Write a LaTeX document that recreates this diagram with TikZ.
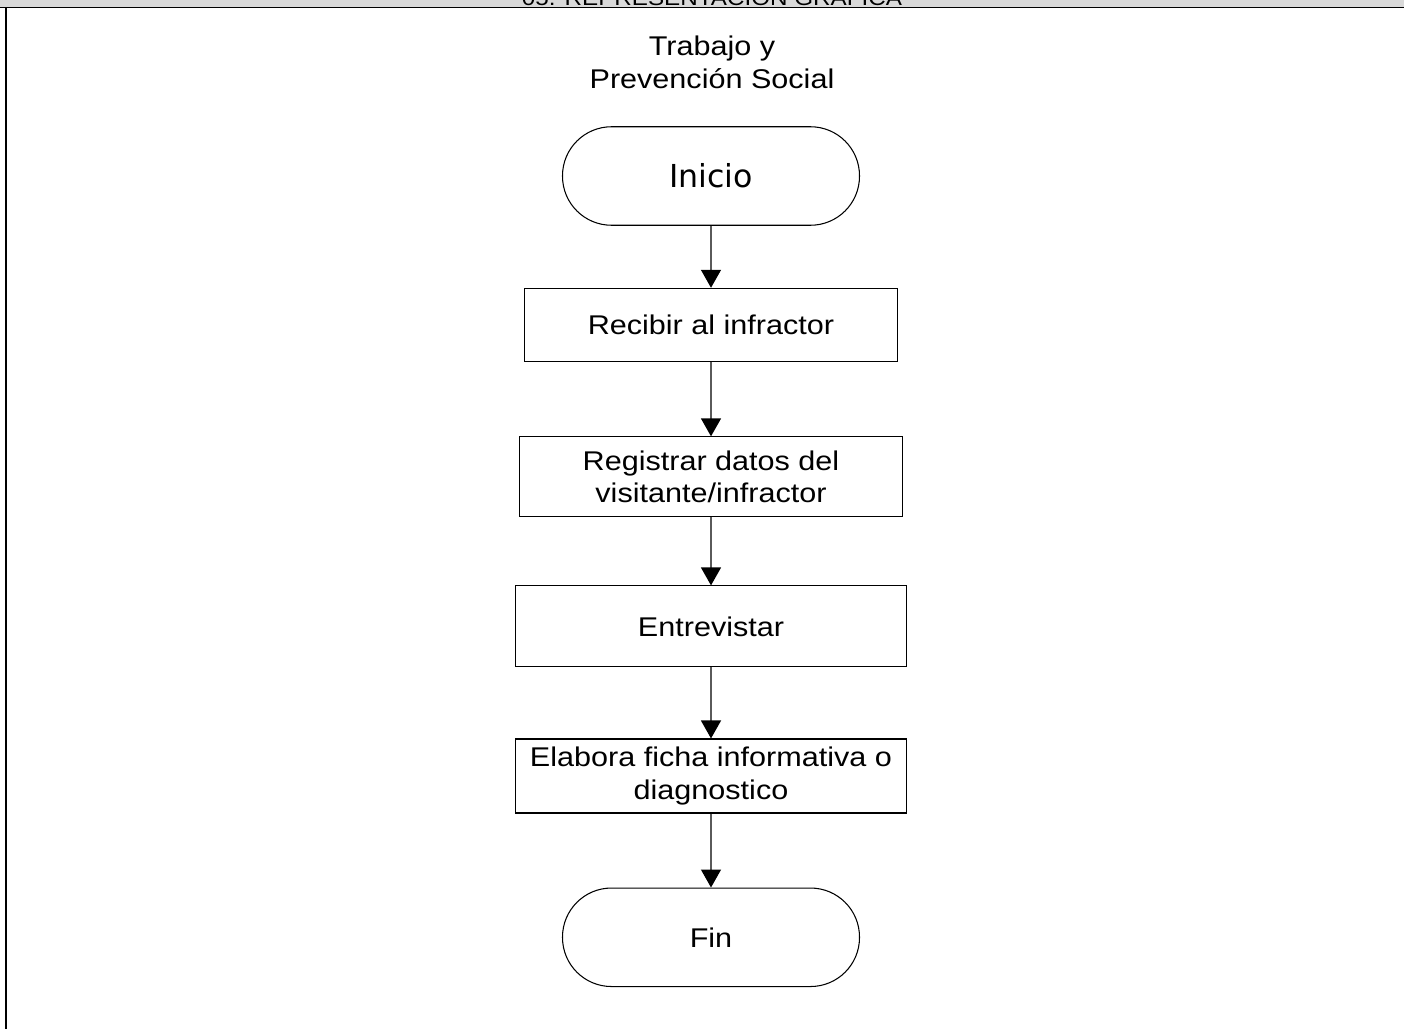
\documentclass[tikz,border=0pt]{standalone}
\usepackage{fontspec}
\setmainfont[FakeStretch=1.13]{Liberation Sans}
\newfontfamily\startfont{DejaVu Sans}
\usetikzlibrary{arrows.meta,positioning}
\definecolor{headgray}{RGB}{217,217,217}
\definecolor{arrowgray}{RGB}{90,90,90}

\begin{document}
\begin{tikzpicture}[>={Triangle[width=4mm,length=3.6mm,color=black]},node distance=13mm,
  every node/.style={font=\fontsize{15.4}{18.6}\selectfont},
  term/.style={draw,line width=0.6pt,rounded corners=9.8mm,minimum width=5.94cm,minimum height=1.97cm},
  proc/.style={draw,line width=0.6pt,align=center,inner xsep=1mm,inner ysep=1mm,minimum height=1.5cm}]
\useasboundingbox (0,0) rectangle (28.08,-20.58);
% header band
\begin{scope}
\clip (0,0) rectangle (28.08,-0.14);
\fill[headgray] (0,0) rectangle (28.08,-0.14);
\node[anchor=base,font=\fontsize{12.2}{14}\selectfont] (header) at (14.24,-0.12) {05. REPRESENTACION GRAFICA};
\end{scope}
\draw[line width=1.1pt] (0,-0.15) -- (28.08,-0.15);
\draw[line width=1.1pt] (0.12,-0.15) -- (0.12,-20.58);
\node[align=center] (unit) at (14.24,-1.25) {Trabajo y\\Prevención Social};
\node[term,font=\startfont\fontsize{18}{21}\selectfont] (inicio) at (14.22,-3.52) {Inicio};
\node[proc,below=1.24 of inicio,minimum width=7.46cm,minimum height=1.46cm] (recibir) {Recibir al infractor};
\node[proc,below=1.49 of recibir,minimum width=7.66cm,minimum height=1.6cm] (registrar) {Registrar datos del\\visitante/infractor};
\node[proc,below=1.36 of registrar,minimum width=7.82cm,minimum height=1.62cm] (entrevistar) {Entrevistar};
\node[proc,below=1.42 of entrevistar,minimum width=7.82cm,minimum height=1.48cm] (ficha) {Elabora ficha informativa o\\diagnostico};
\node[term,below=1.48 of ficha] (fin) {Fin};
\foreach \a/\b in {inicio/recibir,recibir/registrar,registrar/entrevistar,entrevistar/ficha,ficha/fin}
  \draw[->,draw=arrowgray,line width=0.8pt] (\a) -- (\b);
\end{tikzpicture}
\end{document}
